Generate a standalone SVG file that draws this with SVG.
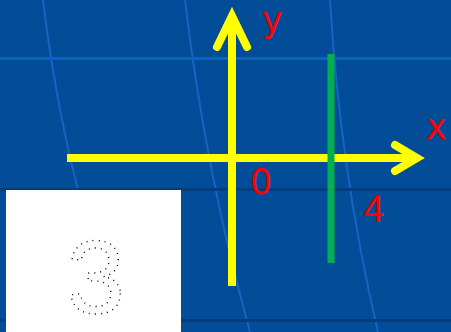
<svg xmlns="http://www.w3.org/2000/svg" width="451" height="332" viewBox="0 0 451 332">
<style>
.lbl{font-family:"DejaVu Sans","Liberation Sans",sans-serif;font-size:35px;fill:#FF0000}
.axis{stroke:#FFFF00;stroke-width:8;fill:none}
.head{stroke:#FFFF00;stroke-width:8;fill:none;stroke-linecap:round;stroke-linejoin:miter}
.bgc{stroke:#1466C4;stroke-width:2;fill:none}
</style>
<rect x="0" y="0" width="451" height="332" fill="#024C98"/>
<path class="bgc" d="M43,0 Q55,100 78,190"/>
<path class="bgc" d="M185,0 Q205,170 250,332"/>
<path class="bgc" d="M330,0 Q340,170 378,332"/>
<rect x="0" y="57" width="451" height="3" fill="#0B62C2"/>
<rect x="0" y="188" width="451" height="3" fill="#023E7E"/>
<rect x="0" y="319" width="451" height="3" fill="#023E7E"/>
<g id="image3">
<rect x="6" y="190" width="175" height="142" fill="#FFFFFF"/>
<text x="96" y="313" text-anchor="middle" font-family="Liberation Sans,Arial,sans-serif" font-size="104" fill="#FBFBFB" stroke="#000" stroke-width="1.4" stroke-dasharray="1 5">3</text>
</g>
<g id="connectors">
<line class="axis" x1="67" y1="158" x2="417" y2="158"/>
<polyline class="head" points="395,145 417,158 395,171"/>
<line class="axis" x1="232" y1="286" x2="232" y2="16"/>
<polyline class="head" points="217,47 232,16 247,47"/>
<line x1="331" y1="54" x2="331" y2="263" stroke="#00B050" stroke-width="7"/>
</g>
<g id="labels">
<text class="lbl" x="262" y="32">y</text>
<text class="lbl" x="426" y="139">x</text>
<text class="lbl" x="250" y="194">0</text>
<text class="lbl" x="363" y="222">4</text>
</g>
</svg>
